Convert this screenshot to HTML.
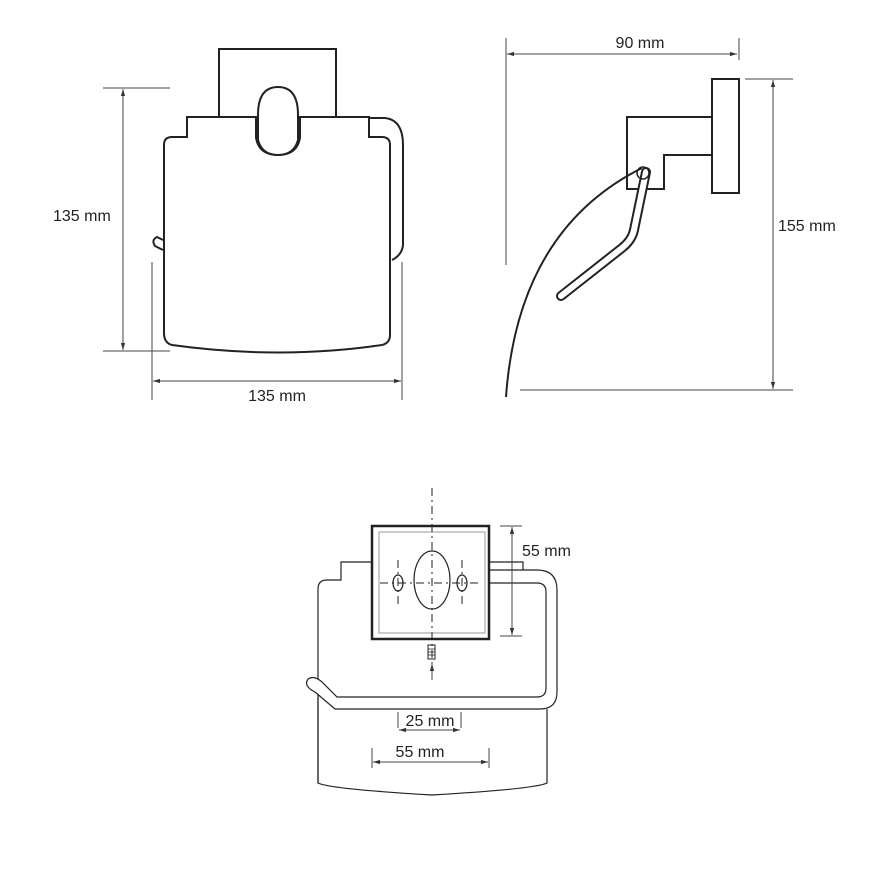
<!DOCTYPE html>
<html><head><style>
html,body{margin:0;padding:0;background:#fff}
svg{display:block}
text{font-family:"Liberation Sans",sans-serif;font-size:16px;fill:#222}
</style></head><body>
<svg width="879" height="879" viewBox="0 0 879 879" xmlns="http://www.w3.org/2000/svg">
<defs>
<marker id="a" viewBox="0 0 10 10" refX="10" refY="5" markerWidth="7" markerHeight="7" orient="auto-start-reverse"><path d="M0,2 L10,5 L0,8 z" fill="#333"/></marker>
</defs>
<g fill="none" stroke="#222" stroke-width="2">
<!-- FRONT VIEW -->
<rect x="219" y="49" width="117" height="68"/>
<path d="M187,117 L187,137 L172,137 Q164,137 164,145 L164,333 Q164,343 172,345 Q280,360 382,345 Q390,343 390,335 L390,145 Q390,137 382,137 L369,137 L369,117 L300,117 L300,138 Q297,155 278,155 Q259,155 256,138 L256,117 Z" fill="#fff"/>
<path d="M258,115 Q258,87 278,87 Q298,87 298,115 L298,140 Q294,155 278,155 Q262,155 258,140 Z" fill="#fff"/>
<path d="M370,118 L385,118 Q403,120 403,145 L403,245 Q402,255 392,260"/>
<path d="M163,240 L157,237 Q151,240 155,246 L163,250"/>
<!-- SIDE VIEW -->
<rect x="712" y="79" width="27" height="114"/>
<path d="M627,117 L712,117 L712,155 L664,155 L664,189 L627,189 Z"/>
<path d="M506,397 Q518,230 642,168"/>
<path d="M646,172 L634,230 Q632,240 622,248 L561,296" stroke="#222" stroke-width="10" stroke-linecap="round" stroke-linejoin="round"/>
<path d="M646,172 L634,230 Q632,240 622,248 L561,296" stroke="#fff" stroke-width="6" stroke-linecap="round" stroke-linejoin="round"/>
<circle cx="643" cy="173" r="6" stroke-width="1.5"/>
<!-- BOTTOM VIEW -->
<path d="M372,562 L341,562 L341,580 L327,580 Q318,580 318,589 L318,783 Q330,789 432,795 Q535,789 547,783 L547,709" stroke-width="1.2"/>
<path d="M489,562 L523,562 L523,570" stroke-width="1.2"/>
<path d="M489,570 L537,570 Q557,570 557,590 L557,692 Q557,709 540,709 L335,709 L315,692 Q303,686 308,679 Q314,675 322,682 L337,697 L537,697 Q546,697 546,688 L546,592 Q546,583 537,583 L489,583" stroke-width="1.2" fill="#fff"/>
<path d="M318,697 L318,783" stroke-width="1.2"/>
<rect x="372" y="526" width="117" height="113" stroke-width="2.5" fill="#fff"/>
<rect x="379" y="532" width="106" height="101" stroke="#999" stroke-width="1"/>
<ellipse cx="432" cy="580" rx="18" ry="29" stroke-width="1.2"/>
<ellipse cx="398" cy="583" rx="5" ry="8" stroke-width="1.2"/>
<ellipse cx="462" cy="583" rx="5" ry="8" stroke-width="1.2"/>
<g stroke-width="1" stroke-dasharray="8,4,2,4">
<path d="M432,488 L432,680"/><path d="M380,583 L482,583"/>
<path d="M398,560 L398,608"/><path d="M462,560 L462,608"/>
</g>
<rect x="428" y="645" width="7" height="14" stroke-width="1"/>
<path d="M428,649 L435,649 M428,652 L435,652 M428,655 L435,655" stroke-width="0.8"/>
</g>
<!-- dimension lines -->
<g stroke="#444" stroke-width="1" fill="none">
<path d="M103,88 L170,88 M103,351 L170,351"/>
<path d="M123,89 L123,350" marker-start="url(#a)" marker-end="url(#a)"/>
<path d="M152,262 L152,400 M402,262 L402,400"/>
<path d="M153,381 L401,381" marker-start="url(#a)" marker-end="url(#a)"/>
<path d="M506,38 L506,265 M739,38 L739,60"/>
<path d="M507,54 L737,54" marker-start="url(#a)" marker-end="url(#a)"/>
<path d="M745,79 L793,79 M520,390 L793,390"/>
<path d="M773,80 L773,389" marker-start="url(#a)" marker-end="url(#a)"/>
<path d="M500,526 L522,526 M500,636 L522,636"/>
<path d="M512,527 L512,635" marker-start="url(#a)" marker-end="url(#a)"/>
<path d="M398,712 L398,728 M461,712 L461,728"/>
<path d="M399,730 L460,730" marker-start="url(#a)" marker-end="url(#a)"/>
<path d="M372,748 L372,768 M489,748 L489,768"/>
<path d="M373,762 L488,762" marker-start="url(#a)" marker-end="url(#a)"/>
<path d="M432,680 L432,664" marker-end="url(#a)"/>
</g>
<text x="53" y="221">135 mm</text>
<text x="277" y="401" text-anchor="middle">135 mm</text>
<text x="640" y="48" text-anchor="middle">90 mm</text>
<text x="778" y="231">155 mm</text>
<text x="522" y="556">55 mm</text>
<text x="430" y="726" text-anchor="middle">25 mm</text>
<text x="420" y="757" text-anchor="middle">55 mm</text>
</svg>
</body></html>
